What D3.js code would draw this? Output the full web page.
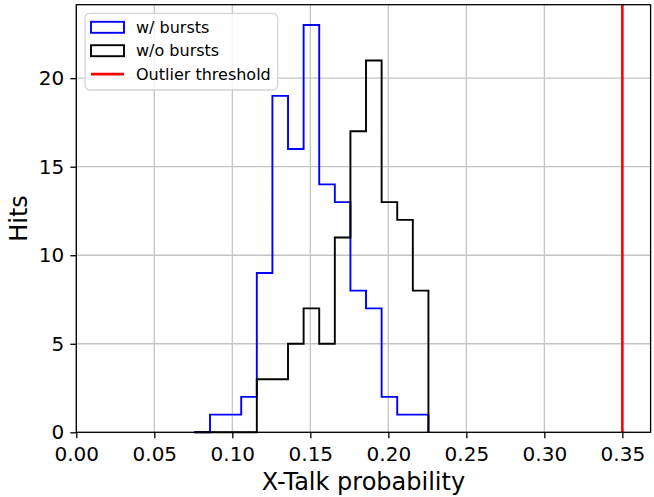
<!DOCTYPE html>
<html lang="en">
<head>
    <meta charset="UTF-8">
    <title>X-Talk probability histogram</title>
    <script src="https://d3js.org/d3.v7.min.js"></script>
    <style>
        body {
            margin: 0;
            padding: 0;
            background-color: #ffffff;
            font-family: "DejaVu Sans", sans-serif;
        }
        .axis text {
            font-family: "DejaVu Sans", sans-serif;
            font-size: 20px;
            fill: #000;
        }
        .axis line {
            stroke: #000;
            stroke-width: 1.3;
        }
        .grid line {
            stroke: #c4c4c4;
            stroke-width: 1.3;
        }
    </style>
</head>
<body>
    <div id="chart"></div>
    <script>
        // histogram bins (shared by both series)
        const binEdges = [0.0757, 0.0857, 0.0957, 0.1057, 0.1157, 0.1257, 0.1357, 0.1457,
                          0.1557, 0.1657, 0.1757, 0.1857, 0.1957, 0.2057, 0.2157, 0.2257];
        const withBursts    = [0, 1, 1, 2, 9, 19, 16, 23, 14, 13, 8, 7, 2, 1, 1];
        const withoutBursts = [0, 0, 0, 0, 3, 3, 5, 7, 5, 11, 17, 21, 13, 12, 8];
        const threshold = 0.35;
        const xTicks = [0, 0.05, 0.10, 0.15, 0.20, 0.25, 0.30, 0.35];
        const yTicks = [0, 5, 10, 15, 20];
        const legendLabels = ["w/ bursts", "w/o bursts", "Outlier threshold"];
        const legendColors = ["blue", "black", "red"];

        const W = 654, H = 497;
        const margin = {top: 4.7, right: 3.4, bottom: 64.7, left: 76.3};
        const width = W - margin.left - margin.right;
        const height = H - margin.top - margin.bottom;

        const svg = d3.select("#chart")
            .append("svg")
            .attr("width", W)
            .attr("height", H);
        const g = svg.append("g")
            .attr("transform", `translate(${margin.left},${margin.top})`);

        const x = d3.scaleLinear().domain([0, 0.3681]).range([0, width]);
        const y = d3.scaleLinear().domain([0, 24.15]).range([height, 0]);

        // grid lines
        g.append("g").attr("class", "grid")
            .selectAll("line").data(xTicks).enter().append("line")
            .attr("x1", d => x(d)).attr("x2", d => x(d))
            .attr("y1", 0).attr("y2", height);
        g.append("g").attr("class", "grid")
            .selectAll("line").data(yTicks).enter().append("line")
            .attr("x1", 0).attr("x2", width)
            .attr("y1", d => y(d)).attr("y2", d => y(d));

        // step outline like matplotlib histtype='step'
        const stepPoints = counts => {
            const pts = [[binEdges[0], 0]];
            counts.forEach((c, i) => {
                pts.push([binEdges[i], c]);
                pts.push([binEdges[i + 1], c]);
            });
            pts.push([binEdges[binEdges.length - 1], 0]);
            return pts;
        };
        const line = d3.line().x(d => x(d[0])).y(d => y(d[1]));

        g.append("path")
            .datum(stepPoints(withBursts))
            .attr("fill", "none")
            .attr("stroke", "blue")
            .attr("stroke-width", 1.9)
            .attr("d", line);
        g.append("path")
            .datum(stepPoints(withoutBursts))
            .attr("fill", "none")
            .attr("stroke", "black")
            .attr("stroke-width", 1.9)
            .attr("d", line);

        // outlier threshold
        g.append("line")
            .attr("x1", x(threshold)).attr("x2", x(threshold))
            .attr("y1", 0).attr("y2", height)
            .attr("stroke", "red")
            .attr("stroke-width", 2.6);

        // axes
        g.append("g").attr("class", "axis")
            .attr("transform", `translate(0,${height})`)
            .call(d3.axisBottom(x).tickValues(xTicks).tickFormat(d3.format(".2f"))
                .tickSize(6).tickPadding(8.5))
            .call(a => a.select(".domain").remove());
        g.append("g").attr("class", "axis")
            .call(d3.axisLeft(y).tickValues(yTicks).tickSize(6).tickPadding(6))
            .call(a => a.select(".domain").remove());

        // spines
        g.append("rect")
            .attr("width", width).attr("height", height)
            .attr("fill", "none")
            .attr("stroke", "#000")
            .attr("stroke-width", 1.3);

        // axis labels
        svg.append("text")
            .attr("x", margin.left + width / 2)
            .attr("y", 490)
            .attr("text-anchor", "middle")
            .style("font-size", "24px")
            .text("X-Talk probability");
        svg.append("text")
            .attr("transform", `translate(27,${margin.top + height / 2}) rotate(-90)`)
            .attr("text-anchor", "middle")
            .style("font-size", "24px")
            .text("Hits");

        // legend
        const legend = svg.append("g");
        legend.append("rect")
            .attr("x", 85).attr("y", 13.3)
            .attr("width", 192.7).attr("height", 76.7)
            .attr("rx", 5)
            .attr("fill", "white").attr("fill-opacity", 0.8)
            .attr("stroke", "#d4d4d4").attr("stroke-width", 1.3);
        legendLabels.forEach((lab, i) => {
            const cy = 27.3 + i * 23.4;
            if (i < 2) {
                legend.append("rect")
                    .attr("x", 91).attr("y", cy - 5.5)
                    .attr("width", 33).attr("height", 11)
                    .attr("fill", "none")
                    .attr("stroke", legendColors[i])
                    .attr("stroke-width", 1.9);
            } else {
                legend.append("line")
                    .attr("x1", 91).attr("x2", 124)
                    .attr("y1", cy).attr("y2", cy)
                    .attr("stroke", legendColors[i])
                    .attr("stroke-width", 2.6);
            }
            legend.append("text")
                .attr("x", 136).attr("y", cy)
                .attr("dominant-baseline", "central")
                .style("font-size", "16px")
                .text(lab);
        });
    </script>
</body>
</html>
